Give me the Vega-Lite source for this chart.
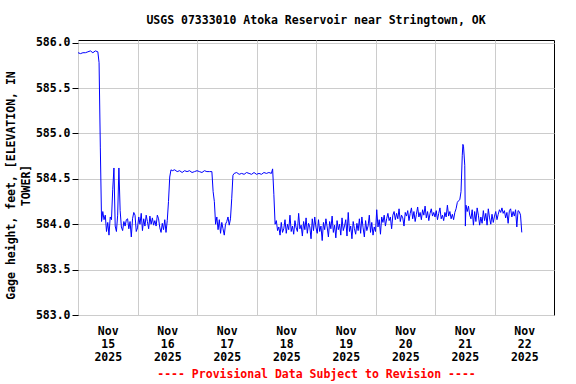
{
  "$schema": "https://vega.github.io/schema/vega-lite/v6.json",
  "width": 476,
  "height": 275,
  "autosize": {"type": "none"},
  "padding": {"left": 78, "top": 40, "right": 22, "bottom": 69},
  "background": "white",
  "title": {
    "text": "USGS 07333010 Atoka Reservoir near Stringtown, OK",
    "font": "DejaVu Sans Mono",
    "fontWeight": "bold",
    "fontSize": 11.5,
    "color": "#000000",
    "anchor": "middle",
    "offset": 10
  },
  "config": {
    "view": {"stroke": "#000000", "strokeWidth": 1},
    "axis": {
      "labelFont": "DejaVu Sans Mono",
      "labelFontWeight": "bold",
      "labelFontSize": 11.5,
      "labelColor": "#000000",
      "titleFont": "DejaVu Sans Mono",
      "titleFontWeight": "bold",
      "titleFontSize": 11.5,
      "titleColor": "#000000",
      "gridColor": "#cccccc",
      "gridOpacity": 1,
      "gridWidth": 1,
      "domain": false
    }
  },
  "data": {
    "values": [
      {"t": "2025-11-15T00:00", "v": 585.89},
      {"t": "2025-11-15T01:00", "v": 585.88},
      {"t": "2025-11-15T02:00", "v": 585.89},
      {"t": "2025-11-15T03:00", "v": 585.89},
      {"t": "2025-11-15T04:00", "v": 585.90},
      {"t": "2025-11-15T05:00", "v": 585.91},
      {"t": "2025-11-15T06:00", "v": 585.89},
      {"t": "2025-11-15T07:00", "v": 585.91},
      {"t": "2025-11-15T08:00", "v": 585.90},
      {"t": "2025-11-15T08:30", "v": 585.78},
      {"t": "2025-11-15T09:00", "v": 584.85},
      {"t": "2025-11-15T09:30", "v": 584.03},
      {"t": "2025-11-15T10:00", "v": 584.14},
      {"t": "2025-11-15T10:30", "v": 584.05},
      {"t": "2025-11-15T11:00", "v": 584.10},
      {"t": "2025-11-15T11:30", "v": 583.92},
      {"t": "2025-11-15T12:00", "v": 584.02},
      {"t": "2025-11-15T12:30", "v": 583.88},
      {"t": "2025-11-15T13:00", "v": 584.08},
      {"t": "2025-11-15T13:30", "v": 584.05},
      {"t": "2025-11-15T14:00", "v": 584.38},
      {"t": "2025-11-15T14:30", "v": 584.62},
      {"t": "2025-11-15T15:00", "v": 583.98},
      {"t": "2025-11-15T15:30", "v": 583.92},
      {"t": "2025-11-15T16:00", "v": 584.10},
      {"t": "2025-11-15T16:30", "v": 584.62},
      {"t": "2025-11-15T17:00", "v": 584.15},
      {"t": "2025-11-15T17:30", "v": 583.97},
      {"t": "2025-11-15T18:00", "v": 583.93},
      {"t": "2025-11-15T18:30", "v": 584.03},
      {"t": "2025-11-15T19:00", "v": 583.98},
      {"t": "2025-11-15T19:30", "v": 584.05},
      {"t": "2025-11-15T20:00", "v": 584.06},
      {"t": "2025-11-15T20:30", "v": 583.95},
      {"t": "2025-11-15T21:00", "v": 584.03},
      {"t": "2025-11-15T21:30", "v": 583.86},
      {"t": "2025-11-15T22:00", "v": 584.06},
      {"t": "2025-11-15T22:30", "v": 584.13},
      {"t": "2025-11-15T23:00", "v": 584.10},
      {"t": "2025-11-15T23:30", "v": 583.92},
      {"t": "2025-11-16T00:00", "v": 583.96},
      {"t": "2025-11-16T00:30", "v": 584.08},
      {"t": "2025-11-16T01:00", "v": 584.00},
      {"t": "2025-11-16T01:30", "v": 584.12},
      {"t": "2025-11-16T02:00", "v": 583.93},
      {"t": "2025-11-16T02:30", "v": 584.06},
      {"t": "2025-11-16T03:00", "v": 583.98},
      {"t": "2025-11-16T03:30", "v": 584.10},
      {"t": "2025-11-16T04:00", "v": 584.03},
      {"t": "2025-11-16T04:30", "v": 583.95},
      {"t": "2025-11-16T05:00", "v": 584.09},
      {"t": "2025-11-16T05:30", "v": 584.00},
      {"t": "2025-11-16T06:00", "v": 584.07},
      {"t": "2025-11-16T06:30", "v": 583.99},
      {"t": "2025-11-16T07:00", "v": 584.04},
      {"t": "2025-11-16T07:30", "v": 583.98},
      {"t": "2025-11-16T08:00", "v": 584.10},
      {"t": "2025-11-16T08:30", "v": 584.06},
      {"t": "2025-11-16T09:00", "v": 583.96},
      {"t": "2025-11-16T09:30", "v": 583.91},
      {"t": "2025-11-16T10:00", "v": 584.01},
      {"t": "2025-11-16T10:30", "v": 583.94},
      {"t": "2025-11-16T11:00", "v": 584.05},
      {"t": "2025-11-16T11:30", "v": 583.91},
      {"t": "2025-11-16T12:00", "v": 584.04},
      {"t": "2025-11-16T12:30", "v": 584.25},
      {"t": "2025-11-16T13:00", "v": 584.52},
      {"t": "2025-11-16T13:30", "v": 584.60},
      {"t": "2025-11-16T14:00", "v": 584.59},
      {"t": "2025-11-16T15:00", "v": 584.60},
      {"t": "2025-11-16T16:00", "v": 584.58},
      {"t": "2025-11-16T17:00", "v": 584.59},
      {"t": "2025-11-16T18:00", "v": 584.57},
      {"t": "2025-11-16T19:00", "v": 584.59},
      {"t": "2025-11-16T20:00", "v": 584.58},
      {"t": "2025-11-16T21:00", "v": 584.59},
      {"t": "2025-11-16T22:00", "v": 584.57},
      {"t": "2025-11-16T23:00", "v": 584.58},
      {"t": "2025-11-17T00:00", "v": 584.59},
      {"t": "2025-11-17T01:00", "v": 584.58},
      {"t": "2025-11-17T02:00", "v": 584.57},
      {"t": "2025-11-17T03:00", "v": 584.59},
      {"t": "2025-11-17T04:00", "v": 584.58},
      {"t": "2025-11-17T05:00", "v": 584.58},
      {"t": "2025-11-17T06:00", "v": 584.58},
      {"t": "2025-11-17T06:30", "v": 584.36},
      {"t": "2025-11-17T07:00", "v": 584.25},
      {"t": "2025-11-17T07:30", "v": 584.00},
      {"t": "2025-11-17T08:00", "v": 584.08},
      {"t": "2025-11-17T08:30", "v": 583.94},
      {"t": "2025-11-17T09:00", "v": 584.05},
      {"t": "2025-11-17T09:30", "v": 583.90},
      {"t": "2025-11-17T10:00", "v": 584.02},
      {"t": "2025-11-17T10:30", "v": 583.95},
      {"t": "2025-11-17T11:00", "v": 583.88},
      {"t": "2025-11-17T11:30", "v": 584.00},
      {"t": "2025-11-17T12:00", "v": 584.03},
      {"t": "2025-11-17T12:30", "v": 584.08},
      {"t": "2025-11-17T13:00", "v": 583.99},
      {"t": "2025-11-17T13:30", "v": 584.06},
      {"t": "2025-11-17T14:00", "v": 584.28},
      {"t": "2025-11-17T14:30", "v": 584.54},
      {"t": "2025-11-17T15:00", "v": 584.56},
      {"t": "2025-11-17T16:00", "v": 584.57},
      {"t": "2025-11-17T17:00", "v": 584.55},
      {"t": "2025-11-17T18:00", "v": 584.56},
      {"t": "2025-11-17T19:00", "v": 584.55},
      {"t": "2025-11-17T20:00", "v": 584.57},
      {"t": "2025-11-17T21:00", "v": 584.56},
      {"t": "2025-11-17T22:00", "v": 584.55},
      {"t": "2025-11-17T23:00", "v": 584.57},
      {"t": "2025-11-18T00:00", "v": 584.55},
      {"t": "2025-11-18T01:00", "v": 584.56},
      {"t": "2025-11-18T02:00", "v": 584.55},
      {"t": "2025-11-18T03:00", "v": 584.57},
      {"t": "2025-11-18T04:00", "v": 584.56},
      {"t": "2025-11-18T05:00", "v": 584.57},
      {"t": "2025-11-18T06:00", "v": 584.56},
      {"t": "2025-11-18T06:30", "v": 584.61},
      {"t": "2025-11-18T07:00", "v": 584.33},
      {"t": "2025-11-18T07:30", "v": 584.00},
      {"t": "2025-11-18T08:00", "v": 584.04},
      {"t": "2025-11-18T08:30", "v": 583.93},
      {"t": "2025-11-18T09:00", "v": 583.97},
      {"t": "2025-11-18T09:30", "v": 583.88},
      {"t": "2025-11-18T10:00", "v": 584.02},
      {"t": "2025-11-18T10:30", "v": 583.91},
      {"t": "2025-11-18T11:00", "v": 583.95},
      {"t": "2025-11-18T11:30", "v": 584.05},
      {"t": "2025-11-18T12:00", "v": 583.90},
      {"t": "2025-11-18T12:30", "v": 584.00},
      {"t": "2025-11-18T13:00", "v": 583.94},
      {"t": "2025-11-18T13:30", "v": 584.10},
      {"t": "2025-11-18T14:00", "v": 583.92},
      {"t": "2025-11-18T14:30", "v": 583.98},
      {"t": "2025-11-18T15:00", "v": 583.89},
      {"t": "2025-11-18T15:30", "v": 584.04},
      {"t": "2025-11-18T16:00", "v": 583.96},
      {"t": "2025-11-18T16:30", "v": 583.92},
      {"t": "2025-11-18T17:00", "v": 584.12},
      {"t": "2025-11-18T17:30", "v": 583.95},
      {"t": "2025-11-18T18:00", "v": 583.99},
      {"t": "2025-11-18T18:30", "v": 583.87},
      {"t": "2025-11-18T19:00", "v": 584.03},
      {"t": "2025-11-18T19:30", "v": 583.94},
      {"t": "2025-11-18T20:00", "v": 584.07},
      {"t": "2025-11-18T20:30", "v": 583.90},
      {"t": "2025-11-18T21:00", "v": 584.01},
      {"t": "2025-11-18T21:30", "v": 583.97},
      {"t": "2025-11-18T22:00", "v": 583.84},
      {"t": "2025-11-18T22:30", "v": 584.06},
      {"t": "2025-11-18T23:00", "v": 583.93},
      {"t": "2025-11-18T23:30", "v": 584.08},
      {"t": "2025-11-19T00:00", "v": 583.96},
      {"t": "2025-11-19T00:30", "v": 583.90},
      {"t": "2025-11-19T01:00", "v": 584.05},
      {"t": "2025-11-19T01:30", "v": 583.92},
      {"t": "2025-11-19T02:00", "v": 583.98},
      {"t": "2025-11-19T02:30", "v": 583.82},
      {"t": "2025-11-19T03:00", "v": 584.02},
      {"t": "2025-11-19T03:30", "v": 583.94},
      {"t": "2025-11-19T04:00", "v": 584.06},
      {"t": "2025-11-19T04:30", "v": 583.97},
      {"t": "2025-11-19T05:00", "v": 583.86},
      {"t": "2025-11-19T05:30", "v": 584.03},
      {"t": "2025-11-19T06:00", "v": 583.95},
      {"t": "2025-11-19T06:30", "v": 584.09},
      {"t": "2025-11-19T07:00", "v": 583.91},
      {"t": "2025-11-19T07:30", "v": 583.99},
      {"t": "2025-11-19T08:00", "v": 583.85},
      {"t": "2025-11-19T08:30", "v": 584.04},
      {"t": "2025-11-19T09:00", "v": 583.94},
      {"t": "2025-11-19T09:30", "v": 584.00},
      {"t": "2025-11-19T10:00", "v": 583.88},
      {"t": "2025-11-19T10:30", "v": 584.07},
      {"t": "2025-11-19T11:00", "v": 583.93},
      {"t": "2025-11-19T11:30", "v": 583.98},
      {"t": "2025-11-19T12:00", "v": 584.05},
      {"t": "2025-11-19T12:30", "v": 583.87},
      {"t": "2025-11-19T13:00", "v": 584.13},
      {"t": "2025-11-19T13:30", "v": 583.92},
      {"t": "2025-11-19T14:00", "v": 583.98},
      {"t": "2025-11-19T14:30", "v": 583.84},
      {"t": "2025-11-19T15:00", "v": 584.03},
      {"t": "2025-11-19T15:30", "v": 583.95},
      {"t": "2025-11-19T16:00", "v": 583.89},
      {"t": "2025-11-19T16:30", "v": 584.01},
      {"t": "2025-11-19T17:00", "v": 583.93},
      {"t": "2025-11-19T17:30", "v": 584.06},
      {"t": "2025-11-19T18:00", "v": 583.90},
      {"t": "2025-11-19T18:30", "v": 584.08},
      {"t": "2025-11-19T19:00", "v": 583.96},
      {"t": "2025-11-19T19:30", "v": 583.86},
      {"t": "2025-11-19T20:00", "v": 584.04},
      {"t": "2025-11-19T20:30", "v": 583.93},
      {"t": "2025-11-19T21:00", "v": 583.98},
      {"t": "2025-11-19T21:30", "v": 584.10},
      {"t": "2025-11-19T22:00", "v": 583.91},
      {"t": "2025-11-19T22:30", "v": 584.02},
      {"t": "2025-11-19T23:00", "v": 583.88},
      {"t": "2025-11-19T23:30", "v": 583.97},
      {"t": "2025-11-20T00:00", "v": 583.92},
      {"t": "2025-11-20T00:30", "v": 584.16},
      {"t": "2025-11-20T01:00", "v": 583.97},
      {"t": "2025-11-20T01:30", "v": 584.05},
      {"t": "2025-11-20T02:00", "v": 583.89},
      {"t": "2025-11-20T02:30", "v": 584.08},
      {"t": "2025-11-20T03:00", "v": 584.02},
      {"t": "2025-11-20T03:30", "v": 584.10},
      {"t": "2025-11-20T04:00", "v": 583.98},
      {"t": "2025-11-20T04:30", "v": 584.06},
      {"t": "2025-11-20T05:00", "v": 584.12},
      {"t": "2025-11-20T05:30", "v": 584.04},
      {"t": "2025-11-20T06:00", "v": 584.08},
      {"t": "2025-11-20T06:30", "v": 583.95},
      {"t": "2025-11-20T07:00", "v": 584.10},
      {"t": "2025-11-20T07:30", "v": 584.14},
      {"t": "2025-11-20T08:00", "v": 584.05},
      {"t": "2025-11-20T08:30", "v": 584.12},
      {"t": "2025-11-20T09:00", "v": 584.06},
      {"t": "2025-11-20T09:30", "v": 584.17},
      {"t": "2025-11-20T10:00", "v": 584.03},
      {"t": "2025-11-20T10:30", "v": 584.10},
      {"t": "2025-11-20T11:00", "v": 584.07},
      {"t": "2025-11-20T11:30", "v": 583.98},
      {"t": "2025-11-20T12:00", "v": 584.13},
      {"t": "2025-11-20T12:30", "v": 584.09},
      {"t": "2025-11-20T13:00", "v": 584.15},
      {"t": "2025-11-20T13:30", "v": 584.04},
      {"t": "2025-11-20T14:00", "v": 584.12},
      {"t": "2025-11-20T14:30", "v": 584.18},
      {"t": "2025-11-20T15:00", "v": 584.06},
      {"t": "2025-11-20T15:30", "v": 584.14},
      {"t": "2025-11-20T16:00", "v": 584.03},
      {"t": "2025-11-20T16:30", "v": 584.11},
      {"t": "2025-11-20T17:00", "v": 584.19},
      {"t": "2025-11-20T17:30", "v": 584.08},
      {"t": "2025-11-20T18:00", "v": 584.13},
      {"t": "2025-11-20T18:30", "v": 584.05},
      {"t": "2025-11-20T19:00", "v": 584.16},
      {"t": "2025-11-20T19:30", "v": 584.10},
      {"t": "2025-11-20T20:00", "v": 584.20},
      {"t": "2025-11-20T20:30", "v": 584.07},
      {"t": "2025-11-20T21:00", "v": 584.14},
      {"t": "2025-11-20T21:30", "v": 584.04},
      {"t": "2025-11-20T22:00", "v": 584.12},
      {"t": "2025-11-20T22:30", "v": 584.17},
      {"t": "2025-11-20T23:00", "v": 584.09},
      {"t": "2025-11-20T23:30", "v": 584.13},
      {"t": "2025-11-21T00:00", "v": 584.08},
      {"t": "2025-11-21T00:30", "v": 584.15},
      {"t": "2025-11-21T01:00", "v": 584.05},
      {"t": "2025-11-21T01:30", "v": 584.12},
      {"t": "2025-11-21T02:00", "v": 584.18},
      {"t": "2025-11-21T02:30", "v": 584.06},
      {"t": "2025-11-21T03:00", "v": 584.10},
      {"t": "2025-11-21T03:30", "v": 584.04},
      {"t": "2025-11-21T04:00", "v": 584.13},
      {"t": "2025-11-21T04:30", "v": 584.08},
      {"t": "2025-11-21T05:00", "v": 584.21},
      {"t": "2025-11-21T05:30", "v": 584.09},
      {"t": "2025-11-21T06:00", "v": 584.14},
      {"t": "2025-11-21T06:30", "v": 584.06},
      {"t": "2025-11-21T07:00", "v": 584.11},
      {"t": "2025-11-21T07:30", "v": 584.05},
      {"t": "2025-11-21T08:00", "v": 584.13},
      {"t": "2025-11-21T08:30", "v": 584.17},
      {"t": "2025-11-21T09:00", "v": 584.24},
      {"t": "2025-11-21T09:30", "v": 584.26},
      {"t": "2025-11-21T10:00", "v": 584.27},
      {"t": "2025-11-21T10:30", "v": 584.36},
      {"t": "2025-11-21T11:00", "v": 584.76},
      {"t": "2025-11-21T11:15", "v": 584.88},
      {"t": "2025-11-21T11:30", "v": 584.86},
      {"t": "2025-11-21T12:00", "v": 584.65},
      {"t": "2025-11-21T12:15", "v": 583.98},
      {"t": "2025-11-21T12:30", "v": 584.21},
      {"t": "2025-11-21T13:00", "v": 584.14},
      {"t": "2025-11-21T13:30", "v": 584.20},
      {"t": "2025-11-21T14:00", "v": 584.10},
      {"t": "2025-11-21T14:30", "v": 584.06},
      {"t": "2025-11-21T15:00", "v": 584.16},
      {"t": "2025-11-21T15:30", "v": 583.99},
      {"t": "2025-11-21T16:00", "v": 584.14},
      {"t": "2025-11-21T16:30", "v": 584.03},
      {"t": "2025-11-21T17:00", "v": 584.18},
      {"t": "2025-11-21T17:30", "v": 584.10},
      {"t": "2025-11-21T18:00", "v": 583.99},
      {"t": "2025-11-21T18:30", "v": 584.08},
      {"t": "2025-11-21T19:00", "v": 584.01},
      {"t": "2025-11-21T19:30", "v": 584.15},
      {"t": "2025-11-21T20:00", "v": 584.04},
      {"t": "2025-11-21T20:30", "v": 584.12},
      {"t": "2025-11-21T21:00", "v": 583.99},
      {"t": "2025-11-21T21:30", "v": 584.17},
      {"t": "2025-11-21T22:00", "v": 584.07},
      {"t": "2025-11-21T22:30", "v": 584.00},
      {"t": "2025-11-21T23:00", "v": 584.11},
      {"t": "2025-11-21T23:30", "v": 584.02},
      {"t": "2025-11-22T00:00", "v": 584.09},
      {"t": "2025-11-22T00:30", "v": 584.14},
      {"t": "2025-11-22T01:00", "v": 584.05},
      {"t": "2025-11-22T01:30", "v": 584.11},
      {"t": "2025-11-22T02:00", "v": 584.16},
      {"t": "2025-11-22T02:30", "v": 584.13},
      {"t": "2025-11-22T03:00", "v": 584.18},
      {"t": "2025-11-22T03:30", "v": 584.12},
      {"t": "2025-11-22T04:00", "v": 584.15},
      {"t": "2025-11-22T04:30", "v": 584.07},
      {"t": "2025-11-22T05:00", "v": 584.13},
      {"t": "2025-11-22T05:30", "v": 584.01},
      {"t": "2025-11-22T06:00", "v": 584.15},
      {"t": "2025-11-22T06:30", "v": 584.17},
      {"t": "2025-11-22T07:00", "v": 584.08},
      {"t": "2025-11-22T07:30", "v": 584.14},
      {"t": "2025-11-22T08:00", "v": 584.09},
      {"t": "2025-11-22T08:30", "v": 584.16},
      {"t": "2025-11-22T09:00", "v": 583.97},
      {"t": "2025-11-22T09:30", "v": 584.15},
      {"t": "2025-11-22T10:00", "v": 584.14},
      {"t": "2025-11-22T10:30", "v": 584.10},
      {"t": "2025-11-22T11:00", "v": 583.91}
    ]
  },
  "mark": {"type": "line", "color": "#0000ff", "strokeWidth": 1, "interpolate": "linear", "clip": true},
  "encoding": {
    "x": {
      "field": "t",
      "type": "temporal",
      "scale": {
        "domain": [
          {"year": 2025, "month": 11, "date": 15},
          {"year": 2025, "month": 11, "date": 23}
        ],
        "nice": false
      },
      "axis": {
        "values": [
          {"year": 2025, "month": 11, "date": 15},
          {"year": 2025, "month": 11, "date": 16},
          {"year": 2025, "month": 11, "date": 17},
          {"year": 2025, "month": 11, "date": 18},
          {"year": 2025, "month": 11, "date": 19},
          {"year": 2025, "month": 11, "date": 20},
          {"year": 2025, "month": 11, "date": 21},
          {"year": 2025, "month": 11, "date": 22}
        ],
        "labelExpr": "[timeFormat(datum.value, '%b'), timeFormat(datum.value, '%d'), timeFormat(datum.value, '%Y')]",
        "labelOffset": 29.75,
        "labelLineHeight": 13,
        "labelPadding": 10,
        "labelAlign": "center",
        "labelBaseline": "top",
        "ticks": false,
        "grid": true,
        "title": "---- Provisional Data Subject to Revision ----",
        "titleColor": "#ff0000",
        "titlePadding": 6
      }
    },
    "y": {
      "field": "v",
      "type": "quantitative",
      "scale": {"domain": [583.0, 586.03], "nice": false, "zero": false},
      "axis": {
        "values": [583.0, 583.5, 584.0, 584.5, 585.0, 585.5, 586.0],
        "format": ".1f",
        "ticks": true,
        "tickSize": 6,
        "tickColor": "#000000",
        "labelPadding": 2,
        "grid": true,
        "title": ["Gage height, feet, [ELEVATION, IN", "TOWER]"],
        "titlePadding": 4,
        "titleLineHeight": 15,
        "titleY": 145
      }
    }
  }
}
